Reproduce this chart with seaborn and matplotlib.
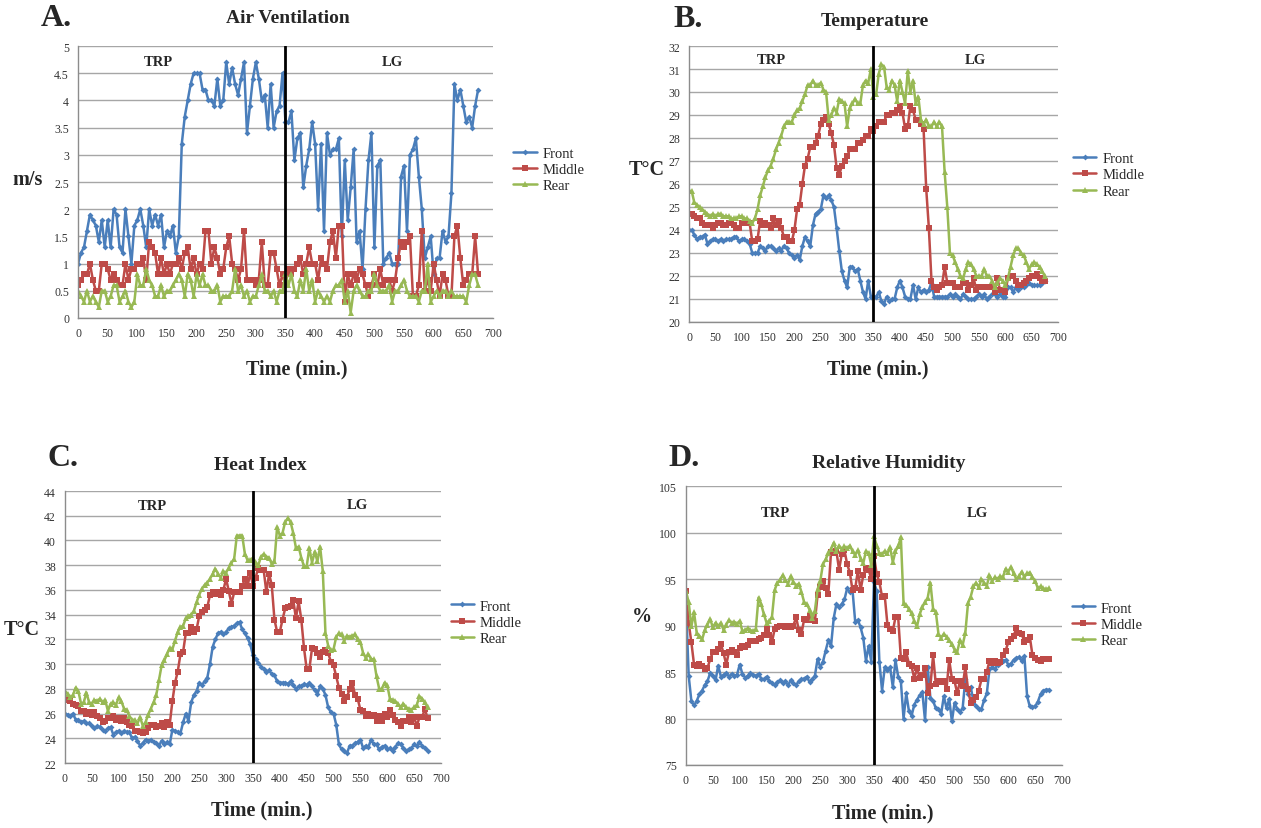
import numpy as np
import pandas as pd
import matplotlib
matplotlib.use("Agg")
import matplotlib.pyplot as plt
from matplotlib.ticker import MultipleLocator, FuncFormatter
import seaborn as sns

# ---- data (readings every 5 min, 0..675) ----
air_front = [1.0, 1.2, 1.3, 1.6, 1.9, 1.8, 1.7, 1.4, 1.8, 1.3,
             1.8, 1.3, 2.0, 1.9, 1.3, 1.2, 2.0, 1.5, 1.0, 1.7,
             1.8, 2.0, 1.7, 1.3, 2.0, 1.7, 1.9, 1.7, 1.9, 1.3,
             1.6, 1.5, 1.7, 1.2, 1.5, 3.2, 3.7, 4.0, 4.3, 4.5,
             4.5, 4.5, 4.2, 4.2, 4.0, 4.0, 3.9, 4.4, 3.9, 4.0,
             4.7, 4.3, 4.6, 4.3, 4.1, 4.4, 4.7, 3.4, 3.9, 4.4,
             4.7, 4.4, 4.0, 4.1, 3.5, 4.3, 3.5, 3.8, 3.9, 4.5,
             3.6, 3.6, 3.8, 2.9, 3.3, 3.4, 2.4, 2.8, 3.1, 3.6,
             3.2, 2.0, 3.2, 1.6, 3.4, 3.0, 3.1, 3.1, 3.3, 1.5,
             2.9, 1.8, 2.4, 3.1, 1.4, 1.6, 0.9, 2.0, 2.9, 3.4,
             1.3, 2.8, 2.9, 1.0, 1.1, 1.2, 1.0, 1.0, 1.0, 2.6,
             2.8, 1.6, 3.0, 3.1, 3.3, 2.6, 2.0, 1.1, 1.3, 1.5,
             0.8, 1.1, 1.1, 1.6, 1.4, 1.5, 2.3, 4.3, 4.0, 4.2,
             3.9, 3.6, 3.7, 3.5, 3.9, 4.2]
air_middle = [0.6, 0.7, 0.8, 0.8, 1.0, 0.7, 0.5, 0.5, 1.0, 1.0,
              0.9, 0.7, 0.8, 0.7, 0.6, 0.6, 1.0, 0.7, 0.9, 0.9,
              1.0, 1.0, 1.1, 0.7, 1.4, 1.3, 1.2, 0.8, 1.1, 0.8,
              1.0, 0.8, 1.0, 1.0, 1.1, 0.9, 1.2, 1.3, 0.9, 1.1,
              0.8, 1.0, 0.9, 1.6, 1.6, 1.0, 1.3, 1.1, 0.8, 0.9,
              1.3, 1.5, 1.0, 0.9, 0.7, 0.9, 1.6, 0.7, 0.7, 0.7,
              0.6, 0.7, 1.4, 0.6, 0.6, 1.2, 1.2, 0.9, 0.6, 0.8,
              0.6, 0.9, 0.8, 0.9, 1.0, 1.1, 0.8, 1.0, 1.3, 1.0,
              1.0, 0.7, 1.1, 1.0, 0.9, 1.4, 1.6, 1.1, 1.7, 1.7,
              0.3, 0.8, 0.6, 0.8, 0.7, 0.9, 0.8, 0.6, 0.4, 0.6,
              0.8, 0.6, 0.9, 0.6, 0.7, 0.7, 0.5, 0.7, 1.1, 1.4,
              1.3, 1.4, 1.5, 0.4, 0.4, 0.6, 1.6, 0.5, 0.7, 0.5,
              1.0, 0.7, 0.4, 0.8, 0.7, 0.4, 0.4, 1.5, 1.7, 1.1,
              0.6, 0.7, 0.8, 0.8, 1.5, 0.8]
air_rear = [0.5, 0.4, 0.3, 0.5, 0.3, 0.4, 0.3, 0.2, 0.5, 0.5,
            0.3, 0.4, 0.6, 0.6, 0.3, 0.4, 0.5, 0.3, 0.2, 0.3,
            0.8, 0.6, 0.6, 0.9, 0.7, 0.6, 0.4, 0.4, 0.6, 0.4,
            0.5, 0.5, 0.6, 0.7, 0.8, 0.7, 0.4, 0.8, 0.7, 0.4,
            0.8, 0.6, 0.8, 0.6, 0.6, 0.5, 0.5, 0.6, 0.3, 0.4,
            0.4, 0.4, 0.5, 0.9, 0.5, 0.6, 0.4, 0.5, 0.3, 0.4,
            0.4, 0.6, 0.8, 0.5, 0.5, 0.4, 0.5, 0.3, 0.5, 0.5,
            0.8, 0.6, 0.8, 0.5, 0.4, 0.7, 0.5, 0.9, 0.5, 0.7,
            0.3, 0.5, 0.4, 0.3, 0.4, 0.3, 0.5, 0.6, 0.6, 0.7,
            0.3, 0.5, 0.1, 0.5, 0.6, 0.5, 0.4, 0.4, 0.5, 0.5,
            0.8, 0.6, 0.5, 0.5, 0.5, 0.6, 0.3, 0.5, 0.5, 0.6,
            0.7, 0.5, 0.4, 0.4, 0.4, 0.3, 0.5, 0.5, 1.0, 0.3,
            0.4, 0.5, 0.4, 0.5, 0.5, 0.4, 0.5, 0.4, 0.4, 0.4,
            0.4, 0.3, 0.6, 0.8, 0.8, 0.6]

temp_front = [24.0, 24.0, 23.8, 23.6, 23.7, 23.7, 23.8, 23.4, 23.5, 23.6,
              23.6, 23.5, 23.6, 23.5, 23.6, 23.6, 23.6, 23.7, 23.7, 23.5,
              23.6, 23.6, 23.5, 23.4, 23.0, 23.0, 23.0, 23.3, 23.2, 23.1,
              23.3, 23.3, 23.2, 23.1, 23.2, 23.1, 23.3, 23.2, 23.0, 22.9,
              22.8, 22.9, 22.7, 23.3, 23.7, 23.5, 23.3, 24.2, 24.7, 24.8,
              24.9, 25.5, 25.4, 25.5, 25.3, 25.0, 24.1, 23.1, 22.2, 21.8,
              21.5, 22.4, 22.4, 22.2, 22.3, 21.8, 21.3, 21.0, 21.8, 21.1,
              21.1, 21.1, 21.3, 20.9, 20.8, 21.1, 20.9, 21.0, 21.0, 21.5,
              21.8, 21.5, 21.1, 21.0, 21.0, 21.6, 21.0, 21.5, 21.3, 21.4,
              21.3, 21.4, 21.7, 21.1, 21.1, 21.1, 21.1, 21.1, 21.1, 21.2,
              21.1, 21.2, 21.1, 21.0, 21.2, 21.1, 21.0, 21.0, 21.0, 21.1,
              21.2, 21.1, 21.2, 21.0, 21.1, 21.2, 21.2, 21.1, 21.2, 21.1,
              21.1, 21.5, 21.5, 21.3, 21.5, 21.4, 21.5, 21.5, 21.6, 21.7,
              21.6, 21.6, 21.6, 21.6, 21.7, 21.8]
temp_middle = [24.7, 24.7, 24.6, 24.5, 24.5, 24.3, 24.2, 24.2, 24.2, 24.1,
               24.2, 24.3, 24.3, 24.2, 24.2, 24.3, 24.3, 24.2, 24.1, 24.1,
               24.3, 24.3, 24.3, 24.3, 23.5, 23.5, 23.6, 24.4, 24.2, 24.3,
               24.2, 24.1, 24.5, 24.2, 24.4, 24.1, 23.7, 23.7, 23.5, 23.5,
               24.0, 24.9, 25.1, 26.0, 26.8, 27.1, 27.6, 27.6, 27.8, 28.1,
               28.6, 28.8, 28.9, 28.6, 28.2, 27.7, 26.7, 26.4, 26.8, 27.0,
               27.2, 27.5, 27.5, 27.5, 27.8, 27.8, 27.9, 28.1, 28.1, 28.4,
               28.3, 28.5, 28.7, 28.7, 28.7, 29.0, 29.0, 29.1, 29.1, 29.2,
               29.4, 29.1, 28.4, 28.5, 29.4, 29.2, 28.8, 28.8, 28.6, 28.4,
               25.8, 24.1, 21.8, 21.5, 21.4, 21.5, 21.6, 22.4, 21.7, 21.7,
               21.7, 21.5, 21.5, 21.5, 21.7, 21.7, 21.4, 21.6, 21.9, 21.4,
               21.5, 21.5, 21.5, 21.5, 21.5, 21.5, 21.3, 21.9, 21.4, 21.4,
               21.3, 21.9, 22.0, 22.0, 21.8, 21.6, 21.6, 21.7, 21.8, 21.9,
               22.0, 22.0, 22.1, 21.9, 21.8, 21.8]
temp_rear = [25.7, 25.7, 25.2, 25.1, 25.0, 24.9, 24.8, 24.7, 24.6, 24.7,
             24.6, 24.7, 24.7, 24.6, 24.6, 24.6, 24.5, 24.5, 24.5, 24.6,
             24.6, 24.5, 24.5, 24.4, 24.3, 24.5, 24.9, 25.5, 25.9, 26.3,
             26.6, 26.8, 27.1, 27.5, 27.8, 28.1, 28.5, 28.7, 28.7, 28.7,
             29.0, 29.2, 29.3, 29.6, 29.9, 30.3, 30.3, 30.5, 30.3, 30.3,
             30.4, 30.1, 30.0, 28.8, 29.0, 29.3, 29.1, 29.7, 29.6, 29.5,
             28.5, 29.3, 29.5, 29.7, 29.5, 29.5, 30.3, 30.5, 30.4, 31.0,
             29.8, 29.9, 30.8, 31.2, 31.1, 30.2, 30.1, 30.5, 30.3, 29.6,
             30.5, 30.0, 29.5, 30.9, 30.0, 30.5, 29.5, 29.8, 28.8, 28.6,
             28.8, 28.5, 28.5, 28.7, 28.5, 28.7, 28.5, 26.5, 25.0, 23.0,
             22.9, 22.6, 22.3, 22.0, 21.9, 22.3, 22.6, 22.5, 22.3, 22.0,
             22.0, 22.0, 22.3, 22.0, 22.0, 21.8, 21.5, 21.7, 21.9, 21.8,
             21.6, 21.9, 22.4, 22.9, 23.2, 23.2, 23.0, 22.9, 22.6, 22.3,
             22.5, 22.6, 22.5, 22.4, 22.2, 22.0]

heat_front = [26.0, 25.9, 25.8, 26.0, 25.5, 25.5, 25.3, 25.4, 25.2, 25.2,
              25.0, 24.8, 25.0, 24.9, 24.7, 24.6, 24.8, 24.9, 24.3, 24.5,
              24.6, 24.4, 24.6, 24.5, 24.5, 24.0, 24.1, 23.8, 23.4, 23.6,
              23.9, 23.8, 23.9, 23.7, 23.6, 23.4, 23.8, 23.5, 23.7, 23.5,
              24.7, 24.6, 24.5, 24.4, 25.3, 26.0, 25.4, 26.9, 27.5, 27.8,
              28.5, 28.3, 28.6, 28.9, 30.0, 31.4, 32.0, 32.5, 32.6, 32.4,
              32.6, 32.9, 33.0, 33.1, 33.3, 33.4, 32.8, 32.5, 32.1, 31.6,
              30.7, 30.4, 30.1, 29.8, 29.6, 29.4, 29.5, 29.2, 29.1, 28.6,
              28.5, 28.5, 28.5, 28.4, 28.6, 28.3, 28.0, 28.2, 28.2, 28.4,
              28.3, 28.5, 28.2, 27.9, 27.6, 28.2, 28.0, 27.5, 26.5, 26.1,
              26.0, 25.1, 23.5, 23.1, 23.0, 22.8, 23.4, 23.4, 23.6, 23.7,
              23.9, 23.2, 23.4, 23.3, 23.9, 23.5, 23.5, 23.1, 23.3, 23.4,
              23.1, 23.2, 23.0, 23.3, 23.6, 23.5, 23.2, 23.0, 23.1, 23.2,
              23.5, 23.4, 23.7, 23.4, 23.2, 23.0]
heat_middle = [27.1, 27.1, 27.0, 26.8, 26.7, 26.6, 26.2, 26.2, 26.0, 26.1,
               25.9, 26.1, 25.8, 25.6, 25.3, 25.4, 25.6, 25.6, 25.8, 25.5,
               25.6, 25.4, 25.6, 25.3, 25.1, 25.0, 24.6, 24.6, 24.5, 24.4,
               24.5, 24.8, 25.1, 25.1, 24.9, 25.0, 25.2, 24.9, 25.3, 25.1,
               27.0, 28.5, 29.4, 30.8, 31.0, 32.5, 32.5, 33.0, 32.6, 32.8,
               33.9, 34.2, 34.4, 34.6, 35.6, 35.8, 35.7, 35.8, 35.6, 36.0,
               36.9, 35.9, 34.9, 35.8, 35.8, 35.8, 36.3, 36.9, 36.3, 37.4,
               36.3, 37.0, 37.8, 37.6, 37.6, 35.8, 37.3, 36.4, 33.6, 32.6,
               32.6, 33.6, 34.5, 34.6, 34.7, 35.2, 33.7, 35.1, 33.6, 31.3,
               29.6, 29.6, 31.3, 31.2, 30.9, 30.6, 31.0, 31.1, 30.9, 30.2,
               29.9, 29.0, 28.1, 27.6, 27.0, 27.3, 28.0, 28.5, 27.5, 27.2,
               26.3, 26.2, 25.8, 26.0, 25.8, 25.9, 25.4, 25.8, 25.4, 26.0,
               25.7, 26.3, 25.9, 25.5, 25.3, 25.0, 25.4, 25.4, 25.7, 25.3,
               25.7, 25.0, 25.7, 25.7, 26.4, 25.6]
heat_rear = [27.8, 27.6, 27.3, 27.5, 28.1, 27.8, 26.8, 26.9, 27.7, 26.9,
             26.8, 27.1, 27.0, 27.2, 26.9, 27.1, 26.2, 26.8, 26.9, 26.7,
             27.3, 27.0, 26.4, 26.3, 25.8, 25.5, 25.5, 25.2, 25.7, 25.0,
             25.3, 25.9, 26.4, 26.9, 27.5, 28.7, 29.9, 30.3, 30.8, 31.3,
             31.2, 31.9, 32.6, 33.0, 33.1, 33.7, 33.9, 34.0, 34.3, 35.0,
             35.6, 36.1, 36.4, 36.6, 36.9, 37.3, 37.7, 37.3, 37.0, 37.5,
             37.4, 37.8, 38.2, 38.5, 40.4, 40.4, 40.4, 38.9, 38.4, 38.4,
             38.6, 38.2, 38.0, 38.7, 38.9, 38.7, 38.6, 38.1, 38.3, 41.1,
             40.4, 40.6, 41.5, 41.8, 41.5, 40.6, 39.4, 39.5, 38.6, 37.9,
             37.9, 39.4, 38.2, 39.1, 38.3, 39.5, 37.5, 32.5, 31.5, 31.1,
             31.2, 32.2, 32.5, 32.4, 31.9, 32.3, 32.2, 32.3, 32.4, 32.0,
             31.8, 30.9, 30.5, 30.8, 30.4, 30.4, 29.0, 28.0, 28.0, 28.5,
             28.3, 27.2, 27.1, 27.0, 26.8, 26.5, 26.8, 26.5, 26.4, 26.3,
             26.5, 26.7, 27.4, 27.2, 26.9, 26.5]

rh_front = [92.4, 84.6, 81.9, 81.4, 81.9, 82.6, 83.0, 83.6, 84.0, 84.9,
            84.6, 84.1, 85.7, 84.5, 84.7, 84.9, 84.5, 84.8, 84.6, 84.7,
            85.8, 84.8, 84.4, 84.6, 84.9, 84.7, 84.6, 84.8, 84.3, 84.2,
            84.5, 84.0, 83.8, 83.6, 83.9, 84.1, 83.8, 84.0, 83.6, 84.1,
            83.8, 83.6, 84.0, 84.2, 84.3, 84.5, 83.9, 84.2, 84.6, 86.4,
            85.5, 86.1, 87.3, 88.4, 87.8, 90.8, 92.3, 92.0, 92.3, 92.8,
            94.0, 93.6, 93.8, 90.4, 90.6, 89.8, 88.7, 86.2, 87.8, 86.1,
            94.7, 93.7, 86.1, 83.0, 85.5, 85.2, 85.5, 83.4, 86.3, 84.5,
            84.0, 80.0, 82.7, 80.8, 80.3, 81.5, 82.0, 82.5, 82.8, 79.8,
            85.5, 82.2, 81.9, 81.1, 81.0, 80.5, 82.4, 81.1, 82.1, 79.7,
            81.7, 81.0, 80.7, 81.1, 84.2, 82.6, 83.4, 81.9, 81.3, 81.0,
            81.0, 82.0, 82.7, 85.3, 85.5, 85.3, 85.8, 86.0, 86.2, 86.3,
            85.8, 85.9, 86.3, 86.5, 86.6, 86.2, 86.7, 82.4, 81.3, 81.2,
            81.3, 81.8, 82.6, 83.0, 83.1, 83.1]
rh_middle = [93.7, 90.3, 88.2, 85.8, 85.6, 85.9, 85.7, 85.3, 85.4, 86.4,
             87.1, 87.2, 87.5, 88.0, 87.0, 85.8, 87.2, 87.4, 87.2, 86.8,
             87.6, 87.8, 87.7, 87.9, 88.3, 88.3, 88.3, 88.5, 88.7, 89.0,
             89.6, 89.0, 88.2, 89.6, 89.8, 89.9, 90.0, 89.8, 89.9, 89.8,
             90.0, 90.9, 89.5, 89.1, 90.7, 90.6, 91.0, 90.6, 90.5, 93.3,
             94.1, 94.8, 94.0, 93.4, 97.9, 97.8, 98.0, 96.0, 97.7, 98.1,
             96.6, 95.7, 93.8, 94.0, 95.9, 93.8, 95.4, 96.2, 96.0, 95.0,
             97.5, 95.5, 94.7, 93.1, 93.2, 90.1, 89.6, 89.4, 90.9, 90.9,
             86.5, 86.4, 87.1, 85.9, 85.6, 84.3, 85.4, 84.4, 84.7, 85.4,
             82.7, 83.5, 86.8, 83.7, 84.0, 83.9, 84.0, 83.2, 86.3, 84.3,
             84.0, 82.7, 84.0, 83.5, 85.5, 83.2, 81.7, 82.0, 82.3, 83.0,
             84.2, 84.3, 85.0, 86.2, 86.0, 86.2, 86.0, 86.1, 86.8, 87.3,
             88.2, 88.5, 88.9, 89.7, 89.2, 89.1, 88.2, 88.4, 88.8, 86.8,
             86.5, 86.3, 86.2, 86.4, 86.4, 86.4]
rh_rear = [93.7, 92.5, 89.9, 91.4, 89.2, 88.9, 88.5, 89.5, 90.1, 90.7,
           89.8, 90.3, 89.9, 90.3, 89.5, 90.1, 90.6, 90.3, 90.4, 90.2,
           90.5, 89.4, 89.5, 89.7, 89.5, 89.4, 89.6, 93.0, 92.3, 91.2,
           90.3, 90.5, 90.9, 93.8, 94.6, 94.9, 95.4, 94.9, 94.5, 95.3,
           94.7, 94.3, 94.5, 93.6, 92.5, 92.3, 91.7, 90.8, 91.6, 93.9,
           94.8, 96.6, 97.1, 97.8, 98.2, 98.9, 98.0, 98.6, 98.2, 98.5,
           98.3, 98.6, 98.0, 97.6, 98.1, 97.2, 96.7, 98.0, 97.8, 96.5,
           99.6, 98.6, 97.8, 97.7, 98.0, 97.8, 98.4, 96.8, 98.0, 98.5,
           99.5, 92.4, 92.2, 91.8, 91.3, 90.5, 89.9, 91.2, 92.0, 92.5,
           93.0, 94.6, 91.8, 91.5, 89.1, 88.7, 89.1, 88.8, 88.4, 88.0,
           87.4, 87.2, 88.4, 87.9, 89.2, 92.4, 93.1, 94.2, 94.6, 94.1,
           95.0, 94.6, 94.3, 95.4, 94.8, 95.2, 95.0, 95.3, 95.2, 96.1,
           95.8, 96.3, 95.6, 95.0, 95.3, 95.8, 95.2, 95.6, 95.7, 95.2,
           94.8, 94.0, 94.2, 94.0, 93.9, 94.0]

series_names = ["Front", "Middle", "Rear"]
colors = {"Front": "#4a7ebb", "Middle": "#be4b48", "Rear": "#98b954"}
markers = {"Front": "D", "Middle": "s", "Rear": "^"}
msizes = {"Front": 3.0, "Middle": 4.0, "Rear": 4.0}

panels = [
    dict(letter="A.", title="Air Ventilation", ylab="m/s",
         data=[air_front, air_middle, air_rear], ylim=(0, 5), step=0.5,
         rect=[0.0619, 0.6152, 0.3290, 0.3281],
         ttl=(0.2284, 0.978), let=(0.032, 0.978), yl=(0.022, 0.783), xl=(0.2355, 0.5537),
         trp=(135, 4.72), lg=(531, 4.72), leg=(1.035, 0.545)),
    dict(letter="B.", title="Temperature", ylab="T°C",
         data=[temp_front, temp_middle, temp_rear], ylim=(20, 32), step=1,
         rect=[0.5464, 0.6104, 0.2926, 0.3329],
         ttl=(0.6939, 0.9735), let=(0.5337, 0.976), yl=(0.513, 0.795), xl=(0.6963, 0.5537),
         trp=(157, 31.43), lg=(544, 31.43), leg=(1.025, 0.533)),
    dict(letter="C.", title="Heat Index", ylab="T°C",
         data=[heat_front, heat_middle, heat_rear], ylim=(22, 44), step=2,
         rect=[0.0515, 0.0784, 0.2982, 0.3281],
         ttl=(0.2062, 0.4379), let=(0.0373, 0.4475), yl=(0.0175, 0.240), xl=(0.2078, 0.0229),
         trp=(162, 42.8), lg=(544, 42.9), leg=(1.01, 0.518)),
    dict(letter="D.", title="Relative Humidity", ylab="%",
         data=[rh_front, rh_middle, rh_rear], ylim=(75, 105), step=5,
         rect=[0.5440, 0.0760, 0.2982, 0.3365],
         ttl=(0.7050, 0.4403), let=(0.5297, 0.4475), yl=(0.5091, 0.2557), xl=(0.7002, 0.0193),
         trp=(166, 102.2), lg=(542, 102.2), leg=(1.01, 0.505)),
]

sns.set_style("white")
plt.rcParams["font.family"] = ["Liberation Serif", "DejaVu Serif"]

fig = plt.figure(figsize=(12.61, 8.29), dpi=100)
fmt = FuncFormatter(lambda v, p: "{:g}".format(round(v, 2)))

for p in panels:
    ax = fig.add_axes(p["rect"])
    for name, vals in zip(series_names, p["data"]):
        assert len(vals) == 136, (p["title"], name, len(vals))
        df = pd.DataFrame({"Time": np.arange(len(vals)) * 5, "Value": vals})
        sns.lineplot(data=df, x="Time", y="Value", ax=ax, color=colors[name],
                     marker=markers[name], markersize=msizes[name],
                     markeredgewidth=0, lw=1.8, label=name)
    ax.axvline(350, color="black", lw=2, zorder=5)
    ax.set_xlim(0, 700)
    ax.set_ylim(*p["ylim"])
    ax.xaxis.set_major_locator(MultipleLocator(50))
    ax.xaxis.set_minor_locator(MultipleLocator(10))
    ax.yaxis.set_major_locator(MultipleLocator(p["step"]))
    ax.yaxis.set_minor_locator(MultipleLocator(p["step"] / 5))
    ax.yaxis.set_major_formatter(fmt)
    ax.grid(axis="y", color="#a6a6a6", lw=1.0)
    ax.set_axisbelow(True)
    for s in ["top", "right"]:
        ax.spines[s].set_visible(False)
    for s in ["left", "bottom"]:
        ax.spines[s].set_color("#8c8c8c")
        ax.spines[s].set_linewidth(1.0)
    ax.tick_params(axis="both", which="major", labelsize=8.5, colors="#8c8c8c",
                   labelcolor="#333333", length=3, direction="out")
    ax.tick_params(axis="both", which="minor", colors="#8c8c8c", length=2.5,
                   direction="in")
    ax.set_xlabel("")
    ax.set_ylabel("")
    ax.text(p["trp"][0], p["trp"][1], "TRP", ha="center", va="center",
            fontsize=10.5, fontweight="bold")
    ax.text(p["lg"][0], p["lg"][1], "LG", ha="center", va="center",
            fontsize=10.5, fontweight="bold")
    ax.legend(loc="center left", bbox_to_anchor=p["leg"], frameon=False,
              fontsize=10.5, handlelength=1.6, handletextpad=0.4,
              labelspacing=0.2, borderaxespad=0)
    fig.text(p["let"][0], p["let"][1], p["letter"], ha="left", va="center",
             fontsize=23, fontweight="bold")
    fig.text(p["ttl"][0], p["ttl"][1], p["title"], ha="center", va="center",
             fontsize=14, fontweight="bold")
    fig.text(p["yl"][0], p["yl"][1], p["ylab"], ha="center", va="center",
             fontsize=14.5, fontweight="bold")
    fig.text(p["xl"][0], p["xl"][1], "Time (min.)", ha="center", va="center",
             fontsize=14.5, fontweight="bold")

fig.savefig("out.png", dpi=100)
